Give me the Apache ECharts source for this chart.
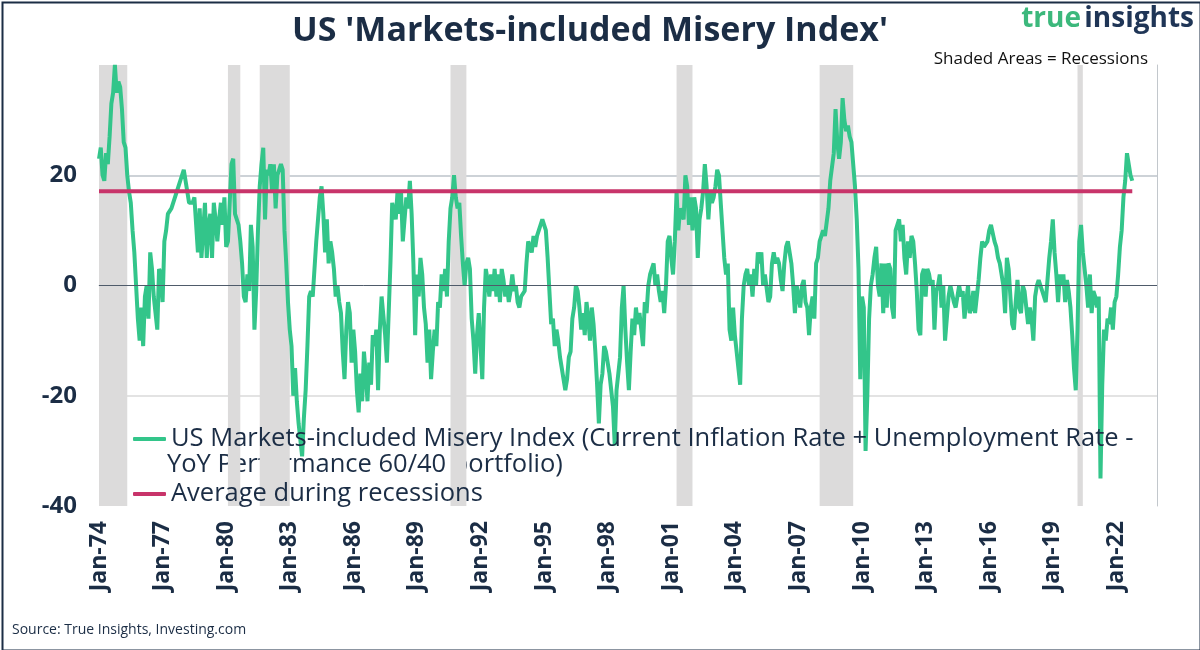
<!DOCTYPE html>
<html>
<head>
<meta charset="utf-8">
<script src="https://cdn.jsdelivr.net/npm/echarts@6/dist/echarts.min.js"></script>
<style>
html,body{margin:0;padding:0;background:#fff;}
#chart{width:1200px;height:650px;}
</style>
</head>
<body>
<div id="chart"></div>
<script>
// ---- DATA ----
const monthNames = ['Jan','Feb','Mar','Apr','May','Jun','Jul','Aug','Sep','Oct','Nov','Dec'];
const startYear = 1974;
const monthCount = 600; // Jan-74 .. Dec-23 (axis span)
const categories = [];
for (let i = 0; i < monthCount; i++) {
  const y = startYear + Math.floor(i / 12);
  categories.push(monthNames[i % 12] + '-' + String(y % 100).padStart(2, '0'));
}

// US Markets-included Misery Index, monthly readings from Jan-74
const misery = [
  23, 25, 20, 19, 24, 22, 27, 33, 35, 40, 35, 37,      // 1974
  36, 32, 26, 25, 20, 17, 15, 10, 6, 0, -6, -10,       // 1975
  -4, -11, -2, 0, -6, 6, 3, -2, -5, -8, 3, 2,          // 1976
  -3, 8, 10, 13, 13, 14, 15, 15, 17, 18, 19, 20,       // 1977
  21, 19, 17, 15, 15, 15, 16, 11, 6, 14, 5, 10,        // 1978
  15, 5, 11, 13, 5, 15, 12, 8, 12, 15, 11, 16,         // 1979
  7, 8, 15, 22, 23, 13, 12, 11, 8, 4, -2, -3,          // 1980
  2, -1, 11, 7, -8, -1, 10, 18, 22, 25, 12, 21,        // 1981
  20, 22, 17, 22, 14, 20, 21, 22, 21, 10, 4, -3,       // 1982
  -8, -11, -20, -15, -21, -25, -28, -31, -24, -19, -11, -2, // 1983
  -1, -2, 3, 8, 12, 16, 18, 13, 6, 12, 4, 8,           // 1984
  6, 3, -2, 0, -3, -5, -12, -17, -8, -3, -5, -14,      // 1985
  -8, -12, -19, -23, -16, -21, -12, -16, -21, -14, -18, -9, // 1986
  -11, -8, -19, -8, -2, -2, -9, -14, -5, 4, 15, 15,    // 1987
  12, 17, 13, 17, 8, 12, 16, 14, 19, 13, 4, -9,        // 1988
  2, -2, 5, 2, -4, -7, -14, -8, -17, -12, -8, -11,     // 1989
  -3, -4, 2, -1, 3, -2, 8, 14, 16, 20, 16, 14,         // 1990
  15, 9, 4, 0, 4, 5, 3, -6, -10, -16, -9, -5,          // 1991
  -11, -17, -4, 3, 1, -2, 2, -1, 3, -2, 2, -3,         // 1992
  3, 1, -2, 0, -3, -1, 2, -1, 0, -3, -4, -2,           // 1993
  -2, -1, 4, 8, 8, 6, 9, 7, 9, 10, 11, 12,             // 1994
  11, 10, 5, -1, -7, -6, -11, -8, -10, -13, -15, -17,  // 1995
  -19, -17, -13, -12, -6, -4, 0, -1, -4, -8, -5, -9,   // 1996
  -3, -6, -10, -4, -7, -12, -18, -25, -18, -16, -11, -12, // 1997
  -12, -16, -16, -22, -29, -19, -16, -13, -4, 0, -8, -14, // 1998
  -19, -12, -6, -9, -4, -7, -5, -5, -11, -3, -5, 0,    // 1999
  2, 3, 4, 0, 2, -1, -3, -1, -5, 0, 8, 9,              // 2000
  5, 2, 8, 17, 10, 14, 13, 12, 20, 18, 11, 16,         // 2001
  10, 16, 14, 5, 12, 14, 17, 22, 18, 12, 17, 15,       // 2002
  16, 18, 21, 20, 15, 10, 5, 2, 4, -8, -10, -4,        // 2003
  -9, -12, -15, -18, -6, 0, 2, 3, 0, 2, -2, 3,         // 2004
  0, 6, 4, 6, 0, 2, 2, -3, -2, 4, 6, 4,                // 2005
  5, 4, 1, -1, 4, 7, 8, 6, 4, 0, -5, 0,                // 2006
  -2, -4, 0, 1, -3, -4, -9, -4, -2, -6, 4, 5,          // 2007
  8, 9, 10, 9, 9, 14, 19, 19, 24, 32, 26, 23,          // 2008
  26, 34, 30, 28, 29, 27, 26, 22, 18, 12, 3, -17,      // 2009
  -2, -4, -30, -20, -6, 0, 2, 5, 7, 0, -2, 4,          // 2010
  -5, 4, -4, 4, 3, -4, -6, 10, 11, 12, 8, 11,          // 2011
  5, 2, 8, 5, 9, 8, 4, -1, -8, -9, 2, 3,               // 2012
  -2, 3, 2, 0, 1, -8, -1, 0, 2, -4, 0, -10,            // 2013
  -6, -2, 0, 0, -3, -4, -4, 0, -2, -1, -6, -3,         // 2014
  0, -5, -4, -1, -5, -2, 1, 5, 8, 7, 7, 8,             // 2015
  10, 11, 11, 8, 7, 5, 4, 2, 0, -5, 5, 3,              // 2016
  -2, -7, -8, -3, 1, -4, -5, 0, -1, -4, -7, -4,        // 2017
  -6, -10, -2, 0, 1, 0, -1, -1, -3, 1, 5, 8,           // 2018
  12, 6, 2, -3, 2, 0, 2, -3, 1, -1, -4, -9,            // 2019
  -15, -19, -8, 8, 11, 6, 3, 0, -4, 2, -5, -1,         // 2020
  -2, -4, -2, -35, -18, -8, -10, -6, -7, -4, -8, -3,   // 2021
  -2, 2, 7, 10, 16, 19, 24, 24, 20, 19                 // 2022
];

const avgDuringRecessions = 17.1;

const recessions = [
  ['Jan-74', 'May-75'],
  ['Feb-80', 'Sep-80'],
  ['Aug-81', 'Jan-83'],
  ['Aug-90', 'May-91'],
  ['Apr-01', 'Jan-02'],
  ['Jan-08', 'Aug-09'],
  ['Mar-20', 'Jun-20']
];

const yTicks = { min: -40, max: 40, interval: 20 };

const seriesName1 = 'US Markets-included Misery Index (Current Inflation Rate + Unemployment Rate - YoY Performance 60/40 portfolio)';
const legendLine1 = 'US Markets-included Misery Index (Current Inflation Rate + Unemployment Rate -';
const legendLine2 = 'YoY Performance 60/40 portfolio)';
const seriesName2 = 'Average during recessions';

// ---- CHART ----
const NAVY = '#1b2d45';
const GREEN = '#33c58a';
const MAGENTA = '#c8346a';
const FONT = '"Open Sans", "DejaVu Sans", sans-serif';

const chart = echarts.init(document.getElementById('chart'), null, { renderer: 'canvas' });

const option = {
  backgroundColor: '#ffffff',
  animation: false,
  textStyle: { fontFamily: FONT, color: NAVY },
  title: {
    text: "US 'Markets-included Misery Index'",
    left: 585, top: 9, textAlign: 'center',
    textStyle: { fontFamily: FONT, fontSize: 34, fontWeight: 'bold', color: NAVY }
  },
  grid: { left: 99, right: 43, top: 65, bottom: 144, containLabel: false },
  legend: {
    orient: 'vertical',
    left: 128, top: 421,
    itemWidth: 33, itemHeight: 4,
    itemGap: 29,
    icon: 'roundRect',
    selectedMode: false,
    data: [seriesName1, seriesName2],
    formatter: function (name) { return name === seriesName1 ? legendLine1 : name; },
    textStyle: { fontFamily: FONT, fontSize: 25.5, color: NAVY, lineHeight: 26 }
  },
  xAxis: {
    type: 'category',
    data: categories,
    boundaryGap: false,
    axisLine: { show: true, lineStyle: { color: '#c2c7cc', width: 1 } },
    axisTick: { show: false },
    axisLabel: {
      interval: 35,
      rotate: 90,
      margin: 15,
      fontFamily: FONT, fontSize: 23, fontWeight: 'bold', color: NAVY
    },
    splitLine: { show: false }
  },
  yAxis: [{
    type: 'value',
    min: yTicks.min, max: yTicks.max, interval: yTicks.interval,
    axisLine: { show: false },
    axisTick: { show: false },
    axisLabel: {
      margin: 22,
      fontFamily: FONT, fontSize: 24, fontWeight: 'bold', color: NAVY,
      formatter: function (v) { return v === yTicks.max ? '' : String(v); }
    },
    splitLine: {
      show: true,
      lineStyle: { color: ['transparent', '#dadada', 'transparent', '#bcc3ca', 'transparent'], width: 1.5 }
    }
  }, {
    type: 'value', position: 'right',
    min: yTicks.min, max: yTicks.max, interval: yTicks.interval,
    axisLine: { show: true, lineStyle: { color: '#c2c7cc', width: 1 } },
    axisTick: { show: false }, axisLabel: { show: false }, splitLine: { show: false }
  }],
  series: [{
    name: seriesName1,
    type: 'line',
    data: misery,
    showSymbol: false,
    symbol: 'none',
    lineStyle: { color: GREEN, width: 4 },
    itemStyle: { color: GREEN },
    z: 3,
    markArea: {
      silent: true,
      itemStyle: { color: '#dcdbdb' },
      data: recessions.map(r => [{ xAxis: r[0] }, { xAxis: r[1] }])
    },
    markLine: {
      silent: true,
      symbol: 'none',
      label: { show: false },
      lineStyle: { color: '#4f5b6a', width: 1, type: 'solid' },
      data: [{ yAxis: 0 }]
    }
  }, {
    name: seriesName2,
    type: 'line',
    data: misery.map(() => avgDuringRecessions),
    showSymbol: false,
    symbol: 'none',
    lineStyle: { color: MAGENTA, width: 4 },
    itemStyle: { color: MAGENTA },
    z: 4
  }],
  graphic: [
    {
      type: 'text', left: 167, top: 452,
      style: { text: legendLine2, fontFamily: FONT, fontSize: 25.5, fill: NAVY }
    },
    {
      type: 'text', right: 52, top: 51,
      style: { text: 'Shaded Areas = Recessions', fontFamily: FONT, fontSize: 17, fill: '#111' }
    },
    {
      type: 'text', left: 12, top: 623,
      style: { text: 'Source: True Insights, Investing.com', fontFamily: FONT, fontSize: 14, fill: NAVY }
    },
    {
      type: 'text', right: 6, top: 5,
      style: {
        text: '{g|true} {n|insights}',
        rich: {
          g: { fontFamily: FONT, fontSize: 28, fontWeight: 'bold', fill: '#3cb87c' },
          n: { fontFamily: FONT, fontSize: 28, fontWeight: 'bold', fill: '#1f3556' }
        }
      }
    },
    {
      type: 'rect', left: 0, top: 0, silent: true, z: 100,
      shape: { x: 1, y: 1, width: 1198, height: 648 },
      style: { fill: 'none', stroke: NAVY, lineWidth: 2 }
    }
  ]
};

chart.setOption(option);
</script>
</body>
</html>
